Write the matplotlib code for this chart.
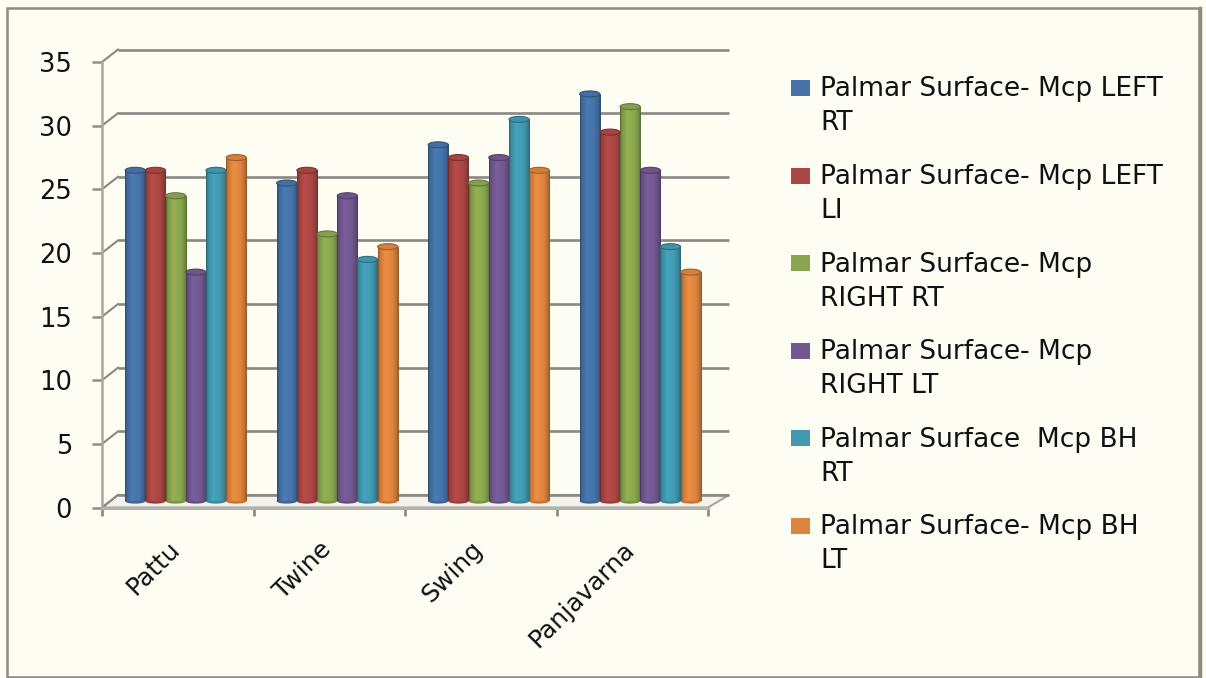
import textwrap
import numpy as np
import matplotlib
matplotlib.use("Agg")
import matplotlib.pyplot as plt
from matplotlib.patches import Ellipse, Polygon, Rectangle
from matplotlib.colors import to_rgb

# ---- data -------------------------------------------------------------
categories = ["Pattu", "Twine", "Swing", "Panjavarna"]
series_names = [
    "Palmar Surface- Mcp LEFT RT",
    "Palmar Surface- Mcp LEFT LI",
    "Palmar Surface- Mcp RIGHT RT",
    "Palmar Surface- Mcp RIGHT LT",
    "Palmar Surface  Mcp BH RT",
    "Palmar Surface- Mcp BH LT",
]
left_rt = [26, 25, 28, 32]
left_li = [26, 26, 27, 29]
right_rt = [24, 21, 25, 31]
right_lt = [18, 24, 27, 26]
bh_rt = [26, 19, 30, 20]
bh_lt = [27, 20, 26, 18]
series_values = [left_rt, left_li, right_rt, right_lt, bh_rt, bh_lt]
y_ticks = [0, 5, 10, 15, 20, 25, 30, 35]

# ---- style ------------------------------------------------------------
colors = ["#4572A7", "#AA4643", "#89A54E", "#71588F", "#4198AF", "#DB843D"]
bg = "#fdfdf4"
grid_col = "#8a8882"
text_col = "#111111"
font = "DejaVu Sans"

W, H = 1206, 678
fig = plt.figure(figsize=(W / 100, H / 100), dpi=100, facecolor=bg)

# front frame of the 3-D plot area, in pixels
fx0, fx1, fy0, fy1 = 102, 708, 507.5, 62
ax = fig.add_axes([fx0 / W, (H - fy0) / H, (fx1 - fx0) / W, (fy0 - fy1) / H])
ax.set_xlim(-0.5, len(categories) - 0.5)
ax.set_ylim(0, 35)
ax.set_autoscale_on(False)
ax.patch.set_visible(False)

ppx = (fx1 - fx0) / len(categories)   # pixels per category
ppy = (fy0 - fy1) / 35.0              # pixels per unit
dxl, dxr = 16 / ppx, 21 / ppx         # depth offset of the back wall
dy = 12.5 / ppy

xl, xr = -0.5, len(categories) - 0.5

# floor
floor = Polygon([(xl, 0), (xr, 0), (xr + dxr, dy), (xl + dxl, dy)],
                closed=True, facecolor="#f3f2ec", edgecolor="#a8a69f",
                lw=1.5, zorder=1, clip_on=False)
ax.add_patch(floor)

# back-wall gridlines and their connectors to the value axis
for v in y_ticks:
    ax.plot([xl + dxl, xr + dxr], [v + dy, v + dy], color=grid_col,
            lw=1.9, zorder=1.5, clip_on=False, solid_capstyle="butt")
    ax.plot([xl, xl + dxl], [v, v + dy], color=grid_col, lw=1.5,
            zorder=1.5, clip_on=False)

# axes lines and ticks
for side in ("top", "right"):
    ax.spines[side].set_visible(False)
ax.spines["left"].set_color("#a9a7a0")
ax.spines["left"].set_linewidth(1.8)
ax.spines["bottom"].set_color("#b3b1aa")
ax.spines["bottom"].set_linewidth(2.2)
ax.set_yticks(y_ticks)
ax.set_yticklabels([str(v) for v in y_ticks], fontsize=18.5,
                   color=text_col, family=font)
ax.tick_params(axis="y", length=7.5, width=1.8, color="#8f8d86", pad=14)
ax.set_xticks(np.arange(len(categories) + 1) - 0.5)
ax.set_xticklabels([])
ax.tick_params(axis="x", length=6, width=2, color="#8f8d86")

# cylinder bars
n = len(series_values)
group_w = 0.8
w = group_w / n
xshift = 8 / ppx
base_y = dy / 2
ell_h = 6 / ppy
knots_t = [0.0, 0.08, 0.35, 0.72, 0.9, 1.0]
knots_f = [0.62, 0.9, 1.08, 1.0, 0.84, 0.66]
tt = np.linspace(0, 1, 64)
prof = np.interp(tt, knots_t, knots_f)

idx = np.arange(len(categories))
for j, (vals, col) in enumerate(zip(series_values, colors)):
    rgb = np.array(to_rgb(col))
    xs = idx + xshift - group_w / 2 + w * (j + 0.5)
    bars = ax.bar(xs, vals, width=w, bottom=base_y, color=col, lw=0,
                  zorder=3 + j * 0.01)
    grad = np.clip(prof[:, None] * rgb[None, :], 0, 1)[None, :, :]
    for rect, v in zip(bars, vals):
        x0 = rect.get_x()
        im = ax.imshow(grad, extent=[x0, x0 + w, base_y, base_y + v],
                       aspect="auto", interpolation="bilinear",
                       zorder=3 + j * 0.01, clip_on=True)
        im.set_clip_path(rect)
        cx = x0 + w / 2
        ax.add_patch(Ellipse((cx, base_y), w, ell_h * 0.8,
                             facecolor=np.clip(rgb * 0.9, 0, 1), lw=0,
                             zorder=2.9, clip_on=False))
        ax.add_patch(Ellipse((cx, base_y + v), w, ell_h,
                             facecolor=np.clip(rgb * 0.97, 0, 1),
                             edgecolor=np.clip(rgb * 0.72, 0, 1), lw=0.8,
                             zorder=3.5 + j * 0.01, clip_on=False))

# category labels
for i, cat in enumerate(categories):
    ax.text(i + 7 / ppx, -(537 - fy0) / ppy, cat, rotation=45,
            ha="right", va="top", fontsize=18, color=text_col,
            family=font, clip_on=False)

# legend
for k, (name, col) in enumerate(zip(series_names, colors)):
    yc = 87 + k * 87.6
    fig.patches.append(Rectangle((791 / W, 1 - (yc + 9) / H), 19 / W, 16 / H,
                                 transform=fig.transFigure,
                                 facecolor=col, edgecolor="none"))
    for m, line in enumerate(textwrap.wrap(name, 24)):
        fig.text(820 / W, 1 - (yc + 9.5 + 34 * m) / H, line, ha="left",
                 va="baseline", fontsize=19, color=text_col, family=font)

# chart border
fig.patches.append(Rectangle((7 / W, 1 - 677 / H), 1192 / W, 669 / H,
                             transform=fig.transFigure, fill=False,
                             edgecolor="#8c8b84", lw=1.8))
fig.add_artist(plt.Line2D([1200 / W, 1200 / W], [1 - 677 / H, 1 - 8 / H],
                          transform=fig.transFigure, color="#8c8b84", lw=2.5))

fig.savefig("out.png", dpi=100, facecolor=bg)
